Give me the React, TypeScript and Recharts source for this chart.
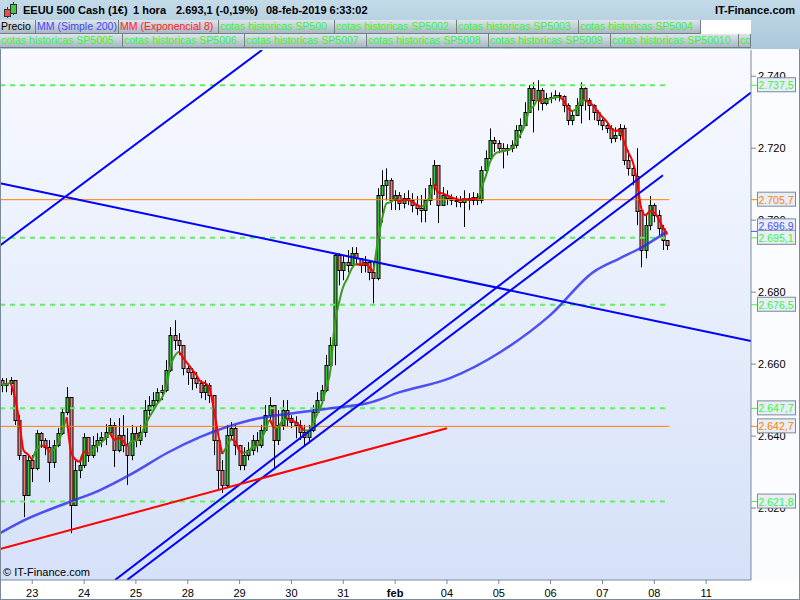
import { Bar, ComposedChart, Line, ReferenceLine, XAxis, YAxis } from "recharts";

// hourly EEUU 500 candles (one candle ~ 2h here)
const firstOpen = 2655.5;
const closes = [
  2654.2, 2654.7, 2655.5, 2644.4, 2634.7, 2623.6, 2633.3, 2631.1, 2640.8, 2638.9,
  2636.9, 2632.8, 2637.5, 2640.8, 2646.7, 2650.8, 2620.8, 2630.5, 2631.9, 2639.7,
  2634.7, 2637.5, 2638.9, 2639.7, 2641.1, 2643.1, 2636.1, 2640.3, 2637.5, 2634.7,
  2640.8, 2638.9, 2641.1, 2647.2, 2648.6, 2650.0, 2652.2, 2652.8, 2658.3, 2668.0,
  2666.7, 2665.3, 2658.9, 2657.8, 2656.1, 2654.7, 2652.2, 2654.2, 2651.4, 2638.9,
  2630.5, 2626.4, 2640.3, 2642.2, 2637.5, 2631.9, 2634.7, 2636.1, 2638.9, 2637.5,
  2641.7, 2645.8, 2648.6, 2638.9, 2643.1, 2647.2, 2645.0, 2643.9, 2643.1, 2641.1,
  2639.7, 2641.7, 2646.7, 2650.0, 2652.8, 2659.7, 2665.3, 2690.3, 2686.1, 2688.3,
  2687.5, 2690.8, 2689.4, 2687.5, 2688.3, 2685.5, 2683.9, 2707.0, 2709.7, 2711.1,
  2705.5, 2707.0, 2704.7, 2706.1, 2705.5, 2704.2, 2703.3, 2702.8, 2705.5, 2709.7,
  2715.3, 2704.2, 2707.0, 2706.1, 2705.5, 2705.5, 2705.0, 2706.1, 2705.5, 2706.4,
  2705.5, 2713.9, 2717.2, 2722.2, 2721.4, 2720.0, 2719.4, 2720.0, 2720.8, 2725.0,
  2726.4, 2730.0, 2736.7, 2733.3, 2736.1, 2732.5, 2733.9, 2734.2, 2734.7, 2734.4,
  2731.9, 2727.8, 2729.2, 2731.9, 2736.7, 2733.3, 2731.9, 2730.0, 2727.8, 2726.4,
  2725.5, 2722.8, 2723.6, 2725.5, 2716.7, 2714.4, 2712.4, 2702.8, 2691.7, 2698.6,
  2704.2, 2701.4, 2697.8, 2694.4, 2693.1,
];
const highs = [
  2656.1, 2656.1, 2656.4, 2654.2, 2645.8, 2634.7, 2634.7, 2634.7, 2641.7, 2641.1,
  2639.4, 2638.9, 2638.9, 2642.2, 2647.8, 2653.6, 2650.0, 2633.3, 2633.9, 2640.8,
  2639.4, 2640.0, 2640.8, 2641.1, 2643.3, 2645.0, 2643.9, 2645.0, 2645.8, 2642.2,
  2643.1, 2642.5, 2643.1, 2650.0, 2651.1, 2652.2, 2653.3, 2654.2, 2661.1, 2670.3,
  2672.2, 2668.6, 2665.3, 2659.7, 2658.9, 2657.8, 2655.5, 2655.5, 2654.7, 2651.4,
  2638.9, 2633.3, 2643.1, 2643.9, 2643.1, 2637.5, 2636.9, 2638.3, 2640.3, 2641.1,
  2643.1, 2648.6, 2650.8, 2648.6, 2647.2, 2650.0, 2650.0, 2645.8, 2645.5, 2644.4,
  2643.1, 2643.1, 2648.6, 2652.2, 2654.2, 2662.5, 2667.5, 2690.8, 2690.8, 2690.3,
  2691.7, 2692.5, 2692.5, 2689.4, 2690.0, 2688.3, 2688.3, 2708.9, 2713.9, 2714.4,
  2711.7, 2708.3, 2707.8, 2707.5, 2708.3, 2707.5, 2706.7, 2707.0, 2708.9, 2711.7,
  2716.7, 2715.3, 2709.2, 2708.3, 2707.2, 2706.7, 2706.7, 2708.3, 2707.5, 2707.8,
  2707.5, 2715.0, 2719.4, 2725.5, 2723.1, 2722.2, 2721.4, 2721.1, 2722.2, 2726.4,
  2728.3, 2732.8, 2737.5, 2738.3, 2738.9, 2736.7, 2735.3, 2735.5, 2736.1, 2735.5,
  2734.7, 2732.5, 2730.5, 2733.9, 2738.3, 2736.9, 2733.9, 2732.2, 2730.5, 2728.3,
  2727.2, 2726.4, 2725.8, 2726.7, 2726.4, 2719.4, 2716.1, 2720.0, 2702.8, 2701.4,
  2706.7, 2704.7, 2702.8, 2698.6, 2694.4,
];
const lows = [
  2652.2, 2652.2, 2651.4, 2643.1, 2633.3, 2617.5, 2627.8, 2627.2, 2630.5, 2636.7,
  2634.7, 2627.2, 2631.1, 2636.9, 2640.3, 2645.8, 2613.0, 2625.0, 2628.3, 2631.1,
  2632.8, 2633.9, 2635.5, 2636.9, 2637.5, 2640.3, 2631.4, 2635.5, 2635.5, 2626.4,
  2633.3, 2636.9, 2637.5, 2639.7, 2645.8, 2647.2, 2649.2, 2650.0, 2652.2, 2657.8,
  2663.9, 2662.5, 2656.9, 2654.2, 2652.8, 2653.3, 2650.5, 2650.0, 2649.2, 2634.7,
  2625.0, 2624.2, 2625.5, 2638.9, 2634.7, 2630.5, 2630.5, 2633.3, 2634.7, 2635.5,
  2636.7, 2641.1, 2644.4, 2631.1, 2637.5, 2641.7, 2642.5, 2642.2, 2639.4, 2638.9,
  2637.5, 2638.0, 2641.1, 2645.8, 2649.4, 2652.2, 2658.9, 2659.7, 2681.9, 2683.3,
  2685.5, 2688.3, 2687.5, 2685.3, 2685.5, 2683.3, 2676.9, 2683.3, 2699.4, 2705.5,
  2702.8, 2702.8, 2702.8, 2703.3, 2704.2, 2702.2, 2701.4, 2699.4, 2699.4, 2704.2,
  2707.0, 2699.2, 2704.2, 2704.2, 2704.2, 2703.6, 2703.6, 2698.1, 2702.8, 2704.2,
  2704.2, 2704.7, 2713.3, 2716.7, 2718.9, 2718.6, 2714.4, 2718.0, 2718.9, 2720.0,
  2722.8, 2726.4, 2730.0, 2724.4, 2730.5, 2730.5, 2731.9, 2732.5, 2733.3, 2733.0,
  2730.0, 2726.4, 2726.4, 2729.2, 2726.9, 2730.5, 2727.8, 2727.8, 2726.4, 2725.0,
  2724.2, 2721.4, 2721.7, 2722.2, 2715.3, 2712.4, 2709.7, 2698.6, 2686.9, 2689.4,
  2697.2, 2699.4, 2695.8, 2691.7, 2691.7,
];

// MM simple 200, read at a few points
const smaIdx = [-0.46, 5.3, 15, 22.7, 30.3, 38.2, 45.8, 57.4, 69, 76.6, 84.5, 92.1, 103.7, 115.3, 126.9, 136.8, 143, 147.7, 154];
const smaVal = [2613.0, 2616.7, 2621.4, 2625.0, 2629.7, 2635.3, 2639.7, 2644.4, 2646.6, 2647.8, 2649.1, 2652.2, 2656.1, 2663.3, 2673.6, 2685.5, 2689.4, 2692.2, 2696.9];

const dayTicks = [7, 19, 31, 43, 55, 67, 79, 91, 103, 115, 127, 139, 151, 163];
const dayLabels = ["23", "24", "25", "28", "29", "30", "31", "feb", "04", "05", "06", "07", "08", "11"];

const priceTicks = [2620, 2640, 2660, 2680, 2700, 2720, 2740];
const greenLevels = [2737.5, 2695.1, 2676.5, 2647.7, 2621.8];
const orangeLevels = [2705.7, 2642.7];
const smaLast = 2696.9;

const trendLines = [
  { from: [-0.46, 2693.0], to: [60.2, 2747.3], color: "#0000ff" },
  { from: [-0.46, 2710.3], to: [173.38, 2666.4], color: "#0000ff" },
  { from: [26.16, 2600.0], to: [173.38, 2735.5], color: "#0000ff" },
  { from: [28.94, 2600.0], to: [153.0, 2712.5], color: "#0000ff" },
  { from: [-0.46, 2608.6], to: [103.0, 2642.2], color: "#ff0000" },
];

const X_MIN = -0.463;
const X_MAX = 173.38;
const LEVEL_END = 154.4;
const FONT = '"Liberation Sans", Arial, sans-serif';

const GREEN_TXT = "#3cf23c";
const ORANGE = "#ff7f00";
const BLUE_TXT = "#4d4dff";

// EMA 8 (hourly) ~ 4 of these candles
const ema: number[] = [];
closes.forEach((c, i) => {
  ema.push(i === 0 ? c : ema[i - 1] + 0.4 * (c - ema[i - 1]));
});

const rows = closes.map((close, i) => {
  const open = i === 0 ? firstOpen : closes[i - 1];
  const high = Math.max(highs[i], open, close);
  const low = Math.min(lows[i], open, close);
  const upBefore = i > 0 && ema[i] >= ema[i - 1];
  const upAfter = i < closes.length - 1 && ema[i + 1] >= ema[i];
  const downBefore = i > 0 && ema[i] < ema[i - 1];
  const downAfter = i < closes.length - 1 && ema[i + 1] < ema[i];
  return {
    i,
    open,
    close,
    high,
    low,
    range: [low, high],
    emaUp: upBefore || upAfter ? ema[i] : null,
    emaDown: downBefore || downAfter ? ema[i] : null,
  };
});

const smaData = smaIdx.map((i, k) => ({ i, v: smaVal[k] }));

function fmt(v: number, d: number) {
  const [a, b] = v.toFixed(d).split(".");
  const int = a.replace(/\B(?=(\d{3})+(?!\d))/g, ".");
  return b ? `${int},${b}` : int;
}

function levelColor(v: number) {
  if (greenLevels.includes(v)) return GREEN_TXT;
  if (orangeLevels.includes(v)) return ORANGE;
  if (v === smaLast) return BLUE_TXT;
  return null;
}

function Candle(props: any) {
  const { x, y, width, height, payload } = props;
  if (x == null || y == null) return null;
  const { open, close, high, low } = payload;
  const top = Math.min(y, y + height);
  const h = Math.abs(height);
  const k = high === low ? 0 : h / (high - low);
  const yo = top + (high - open) * k;
  const yc = top + (high - close) * k;
  const cx = Math.round(x + width / 2) + 0.5;
  const bTop = Math.round(Math.min(yo, yc)) + 0.5;
  const bH = Math.max(Math.round(Math.abs(yo - yc)), 1);
  const up = close >= open;
  return (
    <g>
      <line x1={cx} x2={cx} y1={top} y2={top + h} stroke="#000" strokeWidth={1} />
      <rect
        x={cx - 1.5}
        y={bTop}
        width={3}
        height={bH}
        fill={up ? "#33c833" : "#f07a7a"}
        stroke="#000"
        strokeWidth={1}
      />
    </g>
  );
}

function PriceTick(props: any) {
  const { x, y, payload } = props;
  const v = payload.value;
  const color = levelColor(v);
  if (!color) {
    return (
      <g>
        <line x1={x} x2={x + 5} y1={y} y2={y} stroke="#7a8a9a" />
        <text x={x + 7} y={y + 4} fontSize={11} fill="#000" fontFamily={FONT}>
          {fmt(v, 0)}
        </text>
      </g>
    );
  }
  // the MM 200 box sits a little higher so it does not hide under the 2.695,1 one
  const yy = v === smaLast ? y - 5 : y;
  return (
    <g>
      <line x1={x} x2={x + 6} y1={y} y2={y} stroke={color} />
      <rect x={x + 6.5} y={yy - 7.5} width={38} height={14} fill="#e7eef5" stroke="#7a8a9a" />
      <text x={x + 7.5} y={yy + 4} fontSize={10.5} fill={color} fontFamily={FONT}>
        {fmt(v, 1)}
      </text>
    </g>
  );
}

function DayTick(props: any) {
  const { x, y, payload } = props;
  const k = dayTicks.indexOf(payload.value);
  const label = dayLabels[k];
  return (
    <g>
      <line x1={x} x2={x} y1={y} y2={y + 4} stroke="#7a8a9a" />
      <text
        x={x}
        y={y + 17}
        textAnchor="middle"
        fontSize={11}
        fontWeight={label === "feb" ? "bold" : "normal"}
        fill="#000"
        fontFamily={FONT}
      >
        {label}
      </text>
    </g>
  );
}

const row1 = [
  { t: "Precio", w: 36, c: "#000" },
  { t: "MM (Simple 200)", w: 83, c: "#4646ff" },
  { t: "MM (Exponencial 8)", w: 100, c: "#ff2020" },
  { t: "cotas historicas SP500", w: 116, c: GREEN_TXT },
  { t: "cotas historicas SP5002", w: 122, c: GREEN_TXT },
  { t: "cotas historicas SP5003", w: 122, c: GREEN_TXT },
  { t: "cotas historicas SP5004", w: 122, c: GREEN_TXT },
];
const row2 = [
  { t: "cotas historicas SP5005", w: 123, c: GREEN_TXT },
  { t: "cotas historicas SP5006", w: 122, c: GREEN_TXT },
  { t: "cotas historicas SP5007", w: 122, c: GREEN_TXT },
  { t: "cotas historicas SP5008", w: 122, c: GREEN_TXT },
  { t: "cotas historicas SP5009", w: 122, c: GREEN_TXT },
  { t: "cotas historicas SP50010", w: 128, c: GREEN_TXT },
  { t: "co", w: 12, c: GREEN_TXT },
];

function TabRow({ cells, top }: { cells: { t: string; w: number; c: string }[]; top: number }) {
  return (
    <div style={{ position: "absolute", left: 0, top, height: 14, display: "flex" }}>
      {cells.map((cell) => (
        <div
          key={cell.t}
          style={{
            width: cell.w,
            height: 14,
            boxSizing: "border-box",
            borderRight: "1px solid #6f7f8c",
            borderBottom: "1px solid #6f7f8c",
            background: "linear-gradient(#dde5eb, #a9b8c3)",
            color: cell.c,
            fontSize: 10.5,
            lineHeight: "13px",
            paddingLeft: 1,
            overflow: "hidden",
            whiteSpace: "nowrap",
          }}
        >
          {cell.t}
        </div>
      ))}
    </div>
  );
}

export default function App() {
  return (
    <div
      style={{
        position: "absolute",
        left: 0,
        top: 0,
        width: 800,
        height: 600,
        overflow: "hidden",
        background: "#fbfcff",
        fontFamily: FONT,
      }}
    >
      {/* header bar */}
      <div
        style={{
          position: "absolute",
          left: 0,
          top: 0,
          width: 800,
          height: 49,
          background: "linear-gradient(#c3dae8, #aac7d9)",
        }}
      />
      <svg style={{ position: "absolute", left: 2, top: 2 }} width={16} height={16}>
        <line x1={5.5} x2={5.5} y1={5} y2={16} stroke="#333" />
        <rect x={2.5} y={7.5} width={6} height={7} fill="#e85050" stroke="#333" />
        <line x1={11.5} x2={11.5} y1={0} y2={13} stroke="#333" />
        <rect x={8.5} y={2.5} width={6} height={9} fill="#3ccc3c" stroke="#333" />
      </svg>
      {[
        { t: "EEUU 500 Cash (1€)", l: 23 },
        { t: "1 hora", l: 133 },
        { t: "2.693,1 (-0,19%)", l: 176 },
        { t: "08-feb-2019 6:33:02", l: 266 },
      ].map((h) => (
        <div
          key={h.t}
          style={{ position: "absolute", left: h.l, top: 4, fontSize: 11, fontWeight: "bold", color: "#000", whiteSpace: "nowrap" }}
        >
          {h.t}
        </div>
      ))}
      <div style={{ position: "absolute", right: 5, top: 4, fontSize: 11, fontWeight: "bold", color: "#000" }}>
        IT-Finance.com
      </div>
      <TabRow cells={row1} top={20} />
      <div style={{ position: "absolute", left: 701, top: 20, width: 50, height: 14, background: "#fff" }} />
      <TabRow cells={row2} top={34} />

      {/* plot background */}
      <div
        style={{
          position: "absolute",
          left: 0,
          top: 49,
          width: 751,
          height: 531,
          background: "linear-gradient(#f8faff, #d5e1f9)",
        }}
      />
      <div style={{ position: "absolute", left: 0, top: 580, width: 800, height: 20, background: "#fff" }} />

      <div style={{ position: "absolute", left: 0, top: 0 }}>
        <ComposedChart width={800} height={600} data={rows} margin={{ top: 50, right: 0, bottom: 0, left: 0 }}>
          <XAxis
            dataKey="i"
            type="number"
            domain={[X_MIN, X_MAX]}
            allowDataOverflow
            ticks={dayTicks}
            interval={0}
            height={20}
            tickSize={0}
            tickMargin={0}
            tickLine={false}
            axisLine={{ stroke: "#7a8a9a" }}
            tick={<DayTick />}
          />
          <YAxis
            orientation="right"
            type="number"
            width={49}
            domain={[2600, 2747.3]}
            allowDataOverflow
            ticks={[...priceTicks, 2737.5, 2705.7, 2676.5, 2647.7, 2642.7, 2621.8, smaLast, 2695.1]}
            interval={0}
            tickSize={0}
            tickMargin={0}
            tickLine={false}
            axisLine={{ stroke: "#7a8a9a" }}
            tick={<PriceTick />}
          />

          {greenLevels.map((v) => (
            <ReferenceLine
              key={`g${v}`}
              segment={[
                { x: X_MIN, y: v },
                { x: LEVEL_END, y: v },
              ]}
              stroke="#5ef05e"
              strokeWidth={2}
              strokeDasharray="5 5"
              ifOverflow="hidden"
            />
          ))}
          {orangeLevels.map((v) => (
            <ReferenceLine
              key={`o${v}`}
              segment={[
                { x: X_MIN, y: v },
                { x: LEVEL_END, y: v },
              ]}
              stroke={ORANGE}
              strokeWidth={1}
              ifOverflow="hidden"
            />
          ))}

          <Bar dataKey="range" barSize={3} shape={(p: any) => <Candle {...p} />} isAnimationActive={false} />

          <Line
            data={smaData}
            dataKey="v"
            type="monotone"
            stroke="#2828f0"
            strokeOpacity={0.8}
            strokeWidth={2.5}
            dot={false}
            activeDot={false}
            isAnimationActive={false}
          />
          <Line
            dataKey="emaUp"
            type="monotone"
            stroke="#3c9a1c"
            strokeWidth={2}
            dot={false}
            activeDot={false}
            isAnimationActive={false}
          />
          <Line
            dataKey="emaDown"
            type="monotone"
            stroke="#ff0000"
            strokeWidth={2}
            dot={false}
            activeDot={false}
            isAnimationActive={false}
          />

          {trendLines.map((t, k) => (
            <ReferenceLine
              key={`t${k}`}
              segment={[
                { x: t.from[0], y: t.from[1] },
                { x: t.to[0], y: t.to[1] },
              ]}
              stroke={t.color}
              strokeWidth={2}
              ifOverflow="hidden"
            />
          ))}
        </ComposedChart>
      </div>

      <div style={{ position: "absolute", left: 3, top: 566, fontSize: 11, color: "#000" }}>© IT-Finance.com</div>
      <div style={{ position: "absolute", left: 0, top: 49, width: 1, height: 551, background: "#7a8a9a" }} />
      <div style={{ position: "absolute", left: 799, top: 49, width: 1, height: 551, background: "#7a8a9a" }} />
      <div style={{ position: "absolute", left: 0, top: 599, width: 800, height: 1, background: "#7a8a9a" }} />
    </div>
  );
}
